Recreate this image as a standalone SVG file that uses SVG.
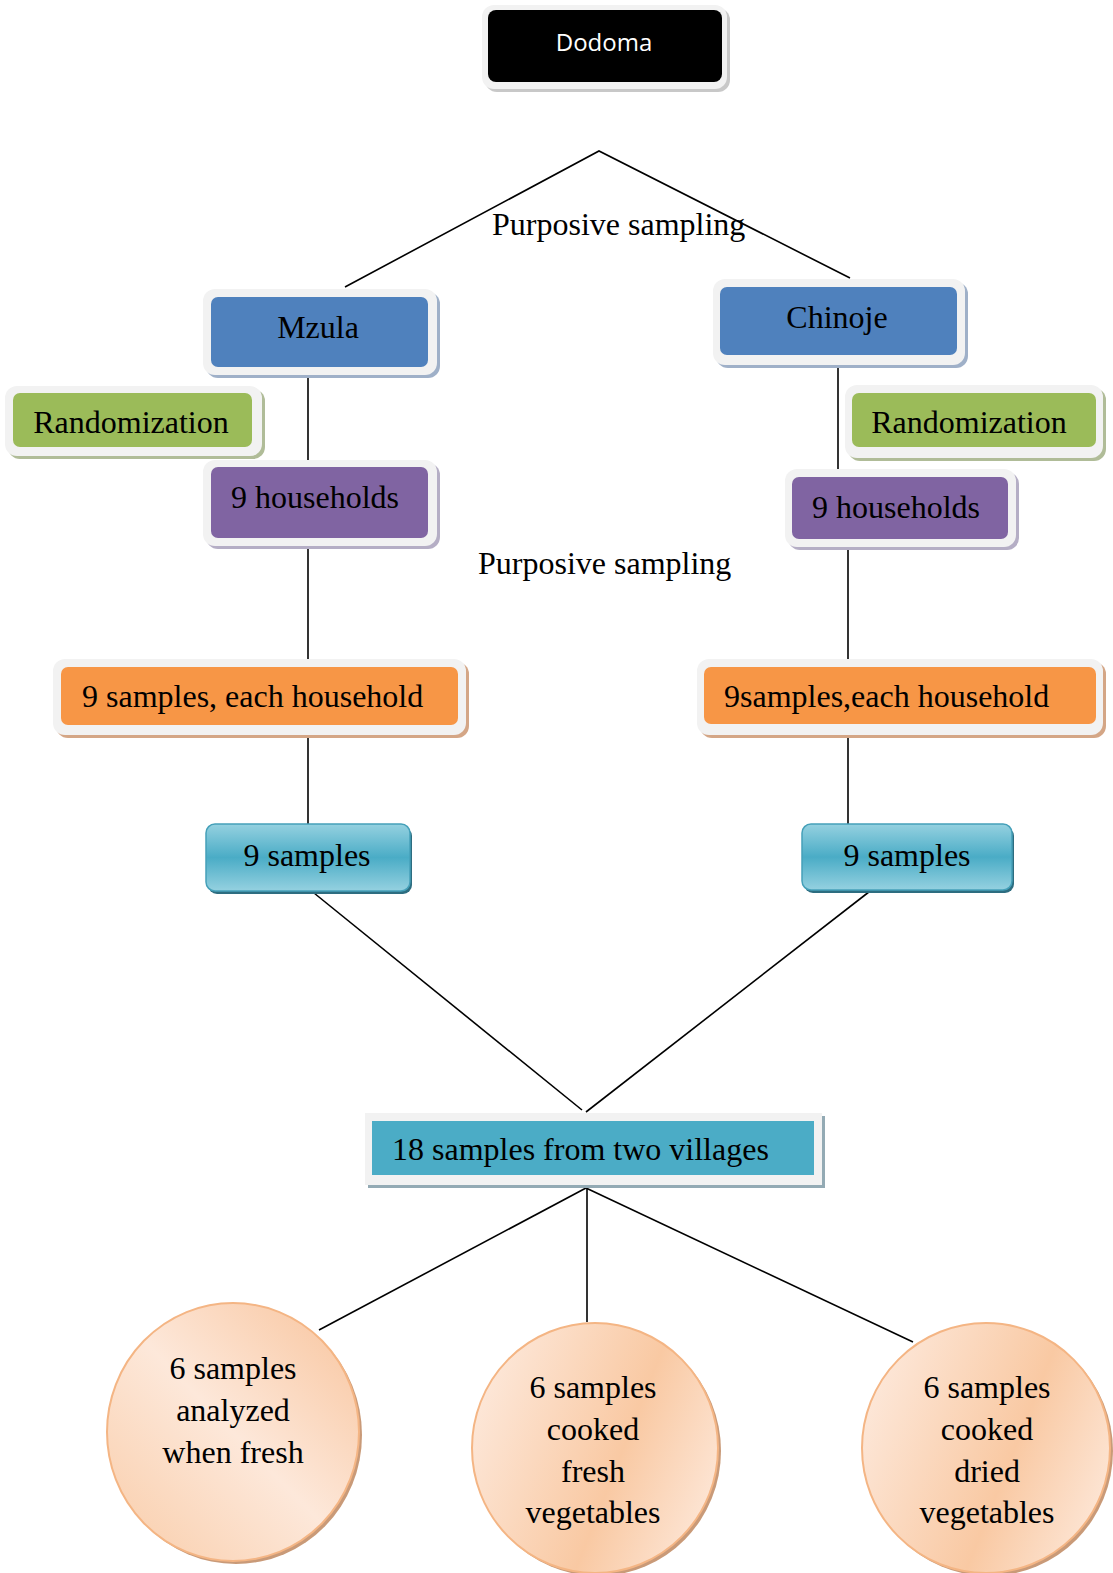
<svg xmlns="http://www.w3.org/2000/svg" width="1113" height="1573" viewBox="0 0 1113 1573">
<defs>
<linearGradient id="cyan" x1="0" y1="0" x2="0" y2="1">
<stop offset="0" stop-color="#95d1e0"/>
<stop offset="0.5" stop-color="#4aacc6"/>
<stop offset="1" stop-color="#95d1e0"/>
</linearGradient>
<linearGradient id="peach" x1="1" y1="0" x2="0" y2="1">
<stop offset="0" stop-color="#f8c39b"/>
<stop offset="0.5" stop-color="#fde8da"/>
<stop offset="1" stop-color="#f9cca8"/>
</linearGradient>
<linearGradient id="peach2" x1="0" y1="0.3" x2="1" y2="0.7">
<stop offset="0" stop-color="#fde8da"/>
<stop offset="0.6" stop-color="#f9c9a3"/>
<stop offset="1" stop-color="#fde6d6"/>
</linearGradient>
</defs>
<style>
.t{font-family:"Liberation Serif","Times New Roman",serif;font-size:32px;fill:#000}
.c{text-anchor:middle}
.frame{fill:#f2f2f2}
.ln{stroke:#000;stroke-width:1.6;fill:none}
.circ{stroke:#f4b584;stroke-width:2}
</style>
<rect width="1113" height="1573" fill="#fff"/>
<g id="connectors">
<polyline class="ln" points="345,287 599,151 850,278"/>
<line class="ln" x1="308" y1="377" x2="308" y2="472"/>
<line class="ln" x1="838" y1="367" x2="838" y2="470"/>
<line class="ln" x1="308" y1="548" x2="308" y2="659"/>
<line class="ln" x1="848" y1="549" x2="848" y2="659"/>
<line class="ln" x1="308" y1="735" x2="308" y2="824"/>
<line class="ln" x1="848" y1="735" x2="848" y2="824"/>
<line class="ln" x1="314" y1="893" x2="582" y2="1110"/>
<line class="ln" x1="874" y1="888" x2="586" y2="1112"/>
<line class="ln" x1="586" y1="1188" x2="319" y2="1330"/>
<line class="ln" x1="587" y1="1188" x2="587" y2="1322"/>
<line class="ln" x1="586" y1="1188" x2="913" y2="1342"/>
</g>
<g id="dodoma">
<rect x="485" y="8" width="245" height="84" rx="12" fill="#c8c8c8"/>
<rect class="frame" x="482" y="5" width="245" height="84" rx="12"/>
<rect x="488" y="10" width="234" height="72" rx="8" fill="#000"/>
<text x="604" y="51" text-anchor="middle" style="font-family:'Open Sans','Liberation Sans',sans-serif;font-size:24px;fill:#fff">Dodoma</text>
</g>
<text id="label-purposive-1" class="t" x="492" y="235">Purposive sampling</text>
<g id="mzula">
<rect x="206" y="292" width="234" height="86" rx="12" fill="#9fb0c8"/>
<rect class="frame" x="203" y="289" width="234" height="86" rx="12"/>
<rect x="211" y="297" width="217" height="70" rx="7" fill="#4f81bd"/>
<text class="t c" x="318" y="338">Mzula</text>
</g>
<g id="chinoje">
<rect x="716" y="282" width="252" height="86" rx="12" fill="#9fb0c8"/>
<rect class="frame" x="713" y="279" width="252" height="86" rx="12"/>
<rect x="720" y="287" width="237" height="68" rx="7" fill="#4f81bd"/>
<text class="t c" x="837" y="328">Chinoje</text>
</g>
<g id="randomization-left">
<rect x="8" y="389" width="257" height="70" rx="12" fill="#b0bc98"/>
<rect class="frame" x="5" y="386" width="257" height="70" rx="12"/>
<rect x="13" y="393" width="239" height="54" rx="7" fill="#9bbb59"/>
<text class="t c" x="131" y="433">Randomization</text>
</g>
<g id="randomization-right">
<rect x="848" y="388" width="258" height="73" rx="12" fill="#b0bc98"/>
<rect class="frame" x="845" y="385" width="258" height="73" rx="12"/>
<rect x="852" y="393" width="244" height="54" rx="7" fill="#9bbb59"/>
<text class="t c" x="969" y="433">Randomization</text>
</g>
<g id="households-left">
<rect x="206" y="463" width="234" height="86" rx="12" fill="#b5aec5"/>
<rect class="frame" x="203" y="460" width="234" height="86" rx="12"/>
<rect x="211" y="467" width="217" height="71" rx="7" fill="#8064a2"/>
<text class="t c" x="315" y="508">9 households</text>
</g>
<g id="households-right">
<rect x="788" y="472" width="231" height="78" rx="12" fill="#b5aec5"/>
<rect class="frame" x="785" y="469" width="231" height="78" rx="12"/>
<rect x="792" y="477" width="216" height="62" rx="7" fill="#8064a2"/>
<text class="t c" x="896" y="518">9 households</text>
</g>
<text id="label-purposive-2" class="t" x="478" y="574">Purposive sampling</text>
<g id="samples-household-left">
<rect x="56" y="662" width="413" height="76" rx="12" fill="#d4a686"/>
<rect class="frame" x="53" y="659" width="413" height="76" rx="12"/>
<rect x="61" y="667" width="397" height="58" rx="7" fill="#f79646"/>
<text class="t" x="82" y="707">9 samples, each household</text>
</g>
<g id="samples-household-right">
<rect x="700" y="662" width="406" height="76" rx="12" fill="#d4a686"/>
<rect class="frame" x="697" y="659" width="406" height="76" rx="12"/>
<rect x="704" y="667" width="392" height="57" rx="7" fill="#f79646"/>
<text class="t" x="724" y="707">9samples,each household</text>
</g>
<g id="nine-samples-left">
<rect x="208" y="827" width="204" height="67" rx="9" fill="#2d6d80"/>
<rect x="206" y="824" width="204" height="67" rx="9" fill="url(#cyan)" stroke="#45a0b9" stroke-width="1.5"/>
<text class="t c" x="307" y="866">9 samples</text>
</g>
<g id="nine-samples-right">
<rect x="804" y="827" width="210" height="66" rx="9" fill="#2d6d80"/>
<rect x="802" y="824" width="210" height="66" rx="9" fill="url(#cyan)" stroke="#45a0b9" stroke-width="1.5"/>
<text class="t c" x="907" y="866">9 samples</text>
</g>
<g id="eighteen-samples">
<rect x="368" y="1116" width="457" height="72" fill="#93aab4"/>
<rect class="frame" x="365" y="1113" width="457" height="72"/>
<rect x="372" y="1121" width="442" height="54" fill="#4bacc6"/>
<text class="t" x="392" y="1160">18 samples from two villages</text>
</g>
<g id="circle-fresh">
<ellipse cx="236" cy="1435" rx="126" ry="129" fill="#c99a78"/>
<ellipse class="circ" cx="233" cy="1432" rx="126" ry="129" fill="url(#peach)"/>
<text class="t c" x="233" y="1379">6 samples</text>
<text class="t c" x="233" y="1421">analyzed</text>
<text class="t c" x="233" y="1463">when fresh</text>
</g>
<g id="circle-cooked-fresh">
<ellipse cx="598" cy="1451" rx="123" ry="125" fill="#c99a78"/>
<ellipse class="circ" cx="595" cy="1448" rx="123" ry="125" fill="url(#peach2)"/>
<text class="t c" x="593" y="1398">6 samples</text>
<text class="t c" x="593" y="1440">cooked</text>
<text class="t c" x="593" y="1482">fresh</text>
<text class="t c" x="593" y="1523">vegetables</text>
</g>
<g id="circle-cooked-dried">
<ellipse cx="989" cy="1451" rx="124" ry="125" fill="#c99a78"/>
<ellipse class="circ" cx="986" cy="1448" rx="124" ry="125" fill="url(#peach2)"/>
<text class="t c" x="987" y="1398">6 samples</text>
<text class="t c" x="987" y="1440">cooked</text>
<text class="t c" x="987" y="1482">dried</text>
<text class="t c" x="987" y="1523">vegetables</text>
</g>
</svg>
